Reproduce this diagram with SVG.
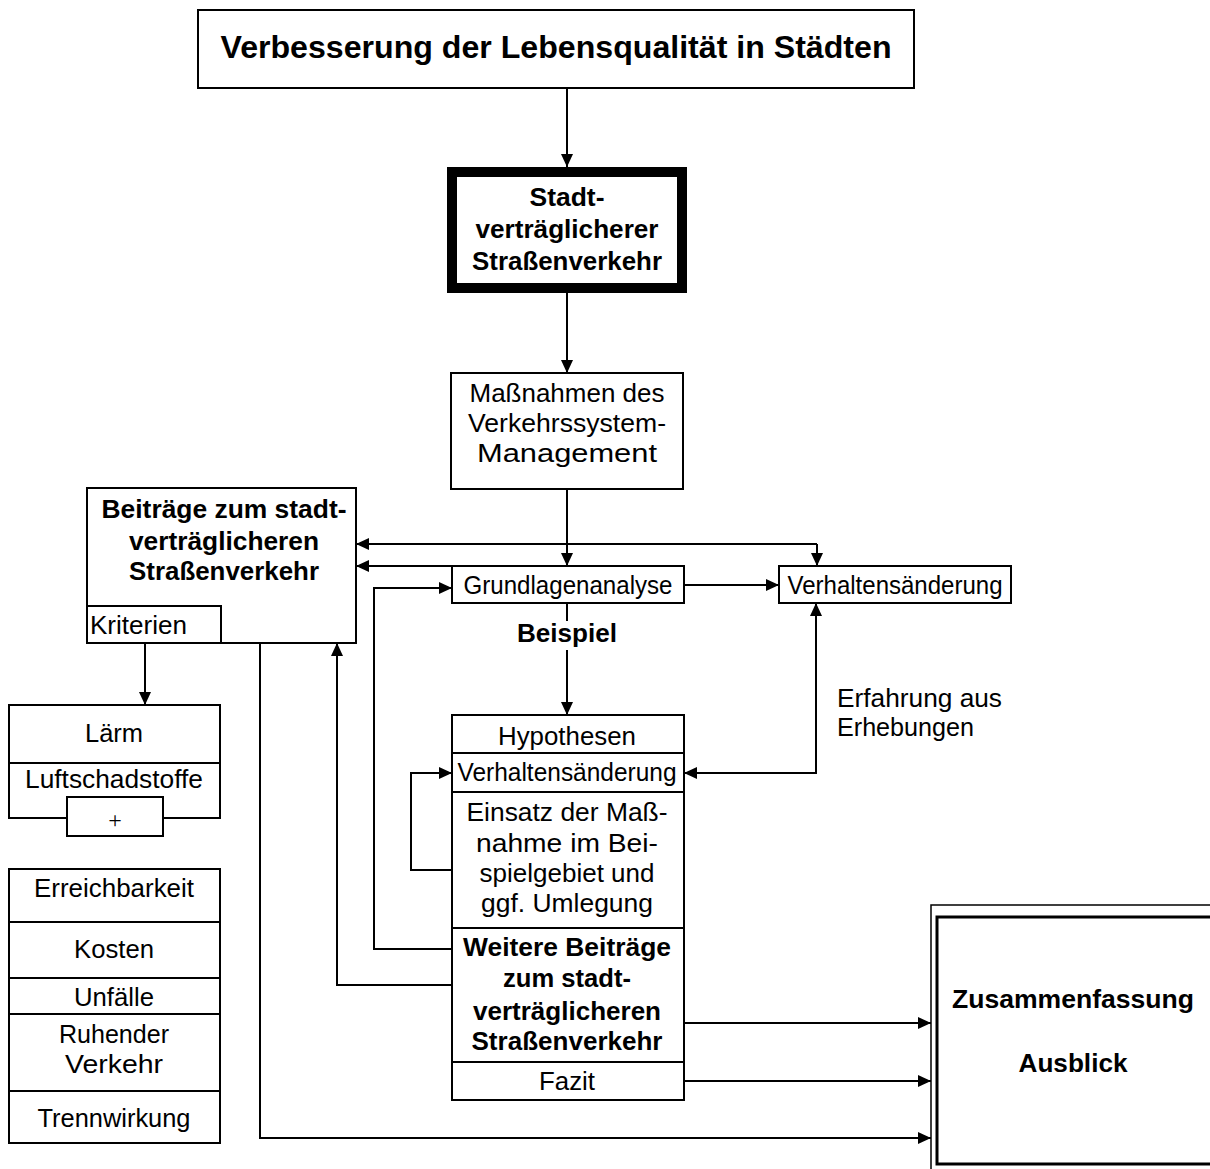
<svg xmlns="http://www.w3.org/2000/svg" width="1210" height="1169" viewBox="0 0 1210 1169">
<style>
.box{fill:#fff;stroke:#000;stroke-width:2}
.t{font-family:"Liberation Sans",Arial,sans-serif;font-size:25px;fill:#000;text-anchor:middle}
.b{font-weight:bold;font-size:26px}
.l{text-anchor:start}
.c{fill:none;stroke:#000;stroke-width:2}
</style>
<defs>
<marker id="ah" markerUnits="userSpaceOnUse" markerWidth="14" markerHeight="12" refX="13" refY="6" orient="auto-start-reverse">
<path d="M0,0 L13,6 L0,12 z" fill="#000"/>
</marker>
</defs>
<rect width="1210" height="1169" fill="#fff"/>

<g id="connectors">
<path class="c" d="M567,88 L567,167" marker-end="url(#ah)"/>
<path class="c" d="M567,293 L567,373" marker-end="url(#ah)"/>
<path class="c" d="M567,489 L567,566" marker-end="url(#ah)"/>
<path class="c" d="M817,544 L356,544" marker-end="url(#ah)"/>
<path class="c" d="M817,544 L817,566" marker-end="url(#ah)"/>
<path class="c" d="M452,566 L356,566" marker-end="url(#ah)"/>
<path class="c" d="M684,585 L779,585" marker-end="url(#ah)"/>
<path class="c" d="M452,949 L374,949 L374,588 L452,588" marker-end="url(#ah)"/>
<path class="c" d="M452,985 L337,985 L337,643" marker-end="url(#ah)"/>
<path class="c" d="M145,643 L145,705" marker-end="url(#ah)"/>
<path class="c" d="M260,643 L260,1138 L931,1138" marker-end="url(#ah)"/>
<path class="c" d="M684,773 L816,773 L816,603" marker-start="url(#ah)" marker-end="url(#ah)"/>
<path class="c" d="M452,870 L411,870 L411,773 L452,773" marker-end="url(#ah)"/>
<path class="c" d="M684,1023 L931,1023" marker-end="url(#ah)"/>
<path class="c" d="M684,1081 L931,1081" marker-end="url(#ah)"/>
<path class="c" d="M567,603 L567,621"/>
<path class="c" d="M567,650 L567,715" marker-end="url(#ah)"/>
</g>

<g id="title">
<rect class="box" x="198" y="10" width="716" height="78"/>
<text class="t b" x="556" y="58" style="font-size:32px" textLength="671" lengthAdjust="spacingAndGlyphs">Verbesserung der Lebensqualität in Städten</text>
</g>

<g id="stadtvertraeglich">
<rect x="452" y="172" width="230" height="116" fill="#fff" stroke="#000" stroke-width="10"/>
<text class="t b" x="567" y="206" textLength="75" lengthAdjust="spacingAndGlyphs">Stadt-</text>
<text class="t b" x="567" y="238" textLength="183" lengthAdjust="spacingAndGlyphs">verträglicherer</text>
<text class="t b" x="567" y="270" textLength="190" lengthAdjust="spacingAndGlyphs">Straßenverkehr</text>
</g>

<g id="massnahmen">
<rect class="box" x="451" y="373" width="232" height="116"/>
<text class="t" x="567" y="402" textLength="195" lengthAdjust="spacingAndGlyphs">Maßnahmen des</text>
<text class="t" x="567" y="432" textLength="198" lengthAdjust="spacingAndGlyphs">Verkehrssystem-</text>
<text class="t" x="567" y="462" textLength="180" lengthAdjust="spacingAndGlyphs">Management</text>
</g>

<g id="beitraege">
<rect class="box" x="87" y="488" width="269" height="155"/>
<text class="t b" x="224" y="518" textLength="245" lengthAdjust="spacingAndGlyphs">Beiträge zum stadt-</text>
<text class="t b" x="224" y="550" textLength="190" lengthAdjust="spacingAndGlyphs">verträglicheren</text>
<text class="t b" x="224" y="580" textLength="190" lengthAdjust="spacingAndGlyphs">Straßenverkehr</text>
</g>

<g id="kriterien">
<rect class="box" x="87" y="606" width="134" height="37"/>
<text class="t l" x="90" y="634" textLength="97" lengthAdjust="spacingAndGlyphs">Kriterien</text>
</g>

<g id="grundlagen">
<rect class="box" x="452" y="566" width="232" height="37"/>
<text class="t" x="568" y="594" textLength="209" lengthAdjust="spacingAndGlyphs">Grundlagenanalyse</text>
</g>

<g id="verhalten1">
<rect class="box" x="779" y="566" width="232" height="37"/>
<text class="t" x="895" y="594" textLength="215" lengthAdjust="spacingAndGlyphs">Verhaltensänderung</text>
</g>

<g id="beispiel">
<text class="t b" x="567" y="642" textLength="100" lengthAdjust="spacingAndGlyphs">Beispiel</text>
</g>

<g id="erfahrung">
<text class="t l" x="837" y="707" textLength="165" lengthAdjust="spacingAndGlyphs">Erfahrung aus</text>
<text class="t l" x="837" y="736" textLength="137" lengthAdjust="spacingAndGlyphs">Erhebungen</text>
</g>

<g id="beispielstapel">
<rect class="box" x="452" y="715" width="232" height="385"/>
<line class="c" x1="452" y1="753" x2="684" y2="753"/>
<line class="c" x1="452" y1="792" x2="684" y2="792"/>
<line class="c" x1="452" y1="928" x2="684" y2="928"/>
<line class="c" x1="452" y1="1062" x2="684" y2="1062"/>
<text class="t" x="567" y="745" textLength="138" lengthAdjust="spacingAndGlyphs">Hypothesen</text>
<text class="t" x="567" y="781" textLength="219" lengthAdjust="spacingAndGlyphs">Verhaltensänderung</text>
<text class="t" x="567" y="821" textLength="201" lengthAdjust="spacingAndGlyphs">Einsatz der Maß-</text>
<text class="t" x="567" y="852" textLength="182" lengthAdjust="spacingAndGlyphs">nahme im Bei-</text>
<text class="t" x="567" y="882" textLength="175" lengthAdjust="spacingAndGlyphs">spielgebiet und</text>
<text class="t" x="567" y="912" textLength="172" lengthAdjust="spacingAndGlyphs">ggf. Umlegung</text>
<text class="t b" x="567" y="956" textLength="208" lengthAdjust="spacingAndGlyphs">Weitere Beiträge</text>
<text class="t b" x="567" y="987" textLength="128" lengthAdjust="spacingAndGlyphs">zum stadt-</text>
<text class="t b" x="567" y="1020" textLength="188" lengthAdjust="spacingAndGlyphs">verträglicheren</text>
<text class="t b" x="567" y="1050" textLength="191" lengthAdjust="spacingAndGlyphs">Straßenverkehr</text>
<text class="t" x="567" y="1090" textLength="56" lengthAdjust="spacingAndGlyphs">Fazit</text>
</g>

<g id="laerm">
<rect class="box" x="9" y="705" width="211" height="113"/>
<line class="c" x1="9" y1="763" x2="220" y2="763"/>
<text class="t" x="114" y="742" textLength="58" lengthAdjust="spacingAndGlyphs">Lärm</text>
<text class="t" x="114" y="788" textLength="178" lengthAdjust="spacingAndGlyphs">Luftschadstoffe</text>
<rect class="box" x="67" y="797" width="96" height="39"/>
<text x="115" y="828" style="font-family:'Liberation Serif','Times New Roman',serif;font-size:24px;text-anchor:middle">+</text>
</g>

<g id="kriterienliste">
<rect class="box" x="9" y="869" width="211" height="274"/>
<line class="c" x1="9" y1="922" x2="220" y2="922"/>
<line class="c" x1="9" y1="978" x2="220" y2="978"/>
<line class="c" x1="9" y1="1014" x2="220" y2="1014"/>
<line class="c" x1="9" y1="1091" x2="220" y2="1091"/>
<text class="t" x="114" y="897" textLength="160" lengthAdjust="spacingAndGlyphs">Erreichbarkeit</text>
<text class="t" x="114" y="958" textLength="80" lengthAdjust="spacingAndGlyphs">Kosten</text>
<text class="t" x="114" y="1006" textLength="80" lengthAdjust="spacingAndGlyphs">Unfälle</text>
<text class="t" x="114" y="1043" textLength="110" lengthAdjust="spacingAndGlyphs">Ruhender</text>
<text class="t" x="114" y="1073" textLength="98" lengthAdjust="spacingAndGlyphs">Verkehr</text>
<text class="t" x="114" y="1127" textLength="153" lengthAdjust="spacingAndGlyphs">Trennwirkung</text>
</g>

<g id="zusammenfassung">
<rect x="931" y="905" width="300" height="300" fill="#fff" stroke="#000" stroke-width="1.5"/>
<rect x="937" y="917" width="300" height="247" fill="#fff" stroke="#000" stroke-width="3"/>
<text class="t b" x="1073" y="1008" textLength="242" lengthAdjust="spacingAndGlyphs">Zusammenfassung</text>
<text class="t b" x="1073" y="1072" textLength="109" lengthAdjust="spacingAndGlyphs">Ausblick</text>
</g>
</svg>
